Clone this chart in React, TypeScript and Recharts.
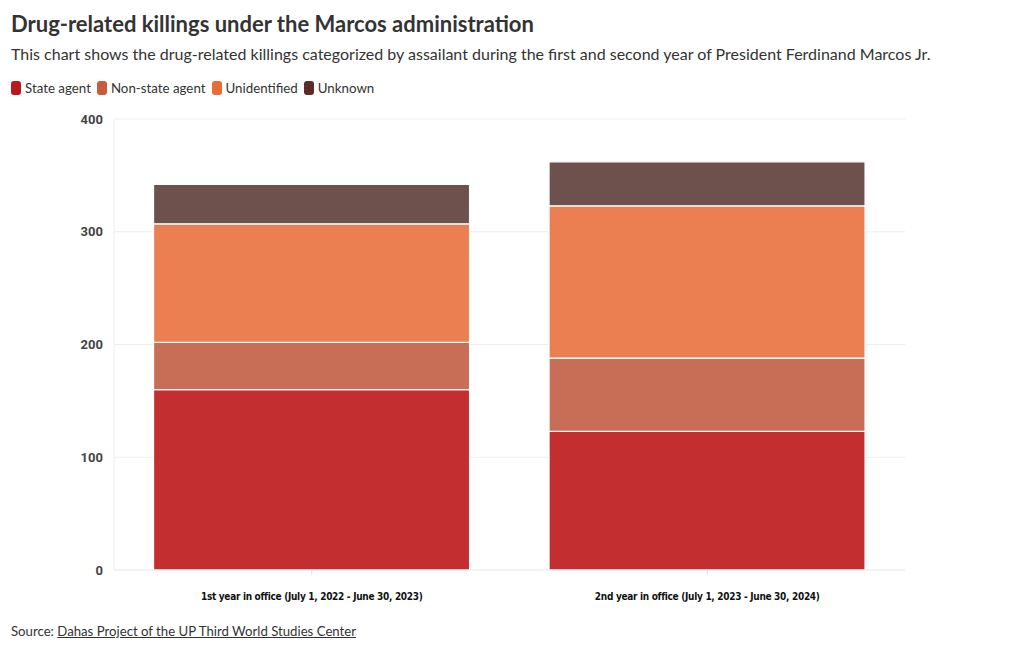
import { BarChart, Bar, XAxis, YAxis, CartesianGrid } from "recharts";

const categories = [
  "1st year in office (July 1, 2022 - June 30, 2023)",
  "2nd year in office (July 1, 2023 - June 30, 2024)",
];
const stateAgent = [160, 123];
const nonStateAgent = [42, 65];
const unidentified = [105, 135];
const unknown = [35, 39];
const yTicks = [0, 100, 200, 300, 400];

const series = [
  { key: "state", name: "State agent", fill: "#c32e31", swatch: "#b8191c" },
  { key: "nonState", name: "Non-state agent", fill: "#c96e56", swatch: "#c65d3e" },
  { key: "unidentified", name: "Unidentified", fill: "#ec7f52", swatch: "#ea6c35" },
  { key: "unknown", name: "Unknown", fill: "#6e504d", swatch: "#5b2b29" },
];

const data = categories.map((c, i) => ({
  category: c,
  state: stateAgent[i],
  nonState: nonStateAgent[i],
  unidentified: unidentified[i],
  unknown: unknown[i],
}));

const font = "'Source Sans Pro', Lato, 'Open Sans', sans-serif";

export default function App() {
  return (
    <div style={{ position: "relative", width: 1020, height: 650, margin: -8, background: "#fff", fontFamily: font, color: "#333" }}>
      <div style={{ position: "absolute", left: 11, top: 10, fontSize: 22, fontWeight: 700, color: "#333" }}>
        Drug-related killings under the Marcos administration
      </div>
      <div style={{ position: "absolute", left: 11, top: 44, fontSize: 16, color: "#333" }}>
        This chart shows the drug-related killings categorized by assailant during the first and second year of President Ferdinand Marcos Jr.
      </div>
      <div style={{ position: "absolute", left: 11, top: 80, fontSize: 13.3, display: "flex", gap: 6, color: "#333" }}>
        {series.map((s) => (
          <span key={s.key} style={{ display: "flex", alignItems: "center" }}>
            <span style={{ display: "inline-block", width: 10, height: 14, borderRadius: 3, background: s.swatch, marginRight: 4 }} />
            {s.name}
          </span>
        ))}
      </div>
      <div style={{ position: "absolute", left: 0, top: 100 }}>
        <BarChart width={1020} height={520} data={data} margin={{ top: 19, right: 115, bottom: 0, left: 0 }} barCategoryGap="10%">
          <CartesianGrid stroke="#eeeeee" vertical={false} />
          <XAxis
            dataKey="category"
            height={50}
            axisLine={{ stroke: "#eeeeee" }}
            tickLine={{ stroke: "#dddddd" }}
            tickSize={5}
            tickMargin={18}
            tick={{ fontSize: 10, fontWeight: 700, fill: "#111", letterSpacing: -0.3, fontFamily: "'DejaVu Sans Condensed', 'Liberation Sans Narrow', sans-serif" }}
          />
          <YAxis
            width={114}
            domain={[0, 400]}
            ticks={yTicks}
            axisLine={{ stroke: "#eeeeee" }}
            tickLine={false}
            tickMargin={5}
            tick={{ fontSize: 13, fontWeight: 700, fill: "#444", fontFamily: "Roboto, sans-serif" }}
          />
          {series.map((s) => (
            <Bar key={s.key} dataKey={s.key} name={s.name} stackId="a" fill={s.fill} stroke="#fff" strokeWidth={1.2} isAnimationActive={false} />
          ))}
        </BarChart>
      </div>
      <div style={{ position: "absolute", left: 11, top: 623, fontSize: 13.2, color: "#333" }}>
        Source: <span style={{ textDecoration: "underline" }}>Dahas Project of the UP Third World Studies Center</span>
      </div>
    </div>
  );
}
